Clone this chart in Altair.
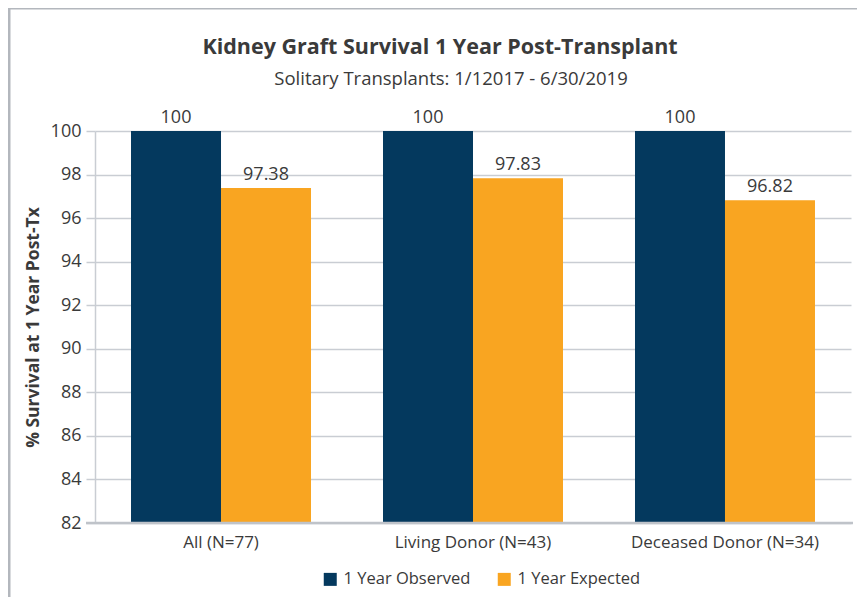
import altair as alt
import pandas as pd

categories = ["All (N=77)", "Living Donor (N=43)", "Deceased Donor (N=34)"]
series_names = ["1 Year Observed", "1 Year Expected"]
observed = [100, 100, 100]
expected = [97.38, 97.83, 96.82]
y_ticks = [82, 84, 86, 88, 90, 92, 94, 96, 98, 100]
title_text = "Kidney Graft Survival 1 Year Post-Transplant"
subtitle_text = "Solitary Transplants: 1/12017 - 6/30/2019"
y_title = "% Survival at 1 Year Post-Tx"

rows = []
for c, o, e in zip(categories, observed, expected):
    rows.append({"cat": c, "series": series_names[0], "value": o, "label": f"{o:g}"})
    rows.append({"cat": c, "series": series_names[1], "value": e, "label": f"{e:.2f}"})
df = pd.DataFrame(rows)

FONT = "Open Sans"
TXT = "#3a3a3a"
GRID = "#c9cdd3"
NAVY = "#04395e"
ORANGE = "#f9a521"

x_enc = alt.X("cat:N", sort=categories, title=None,
              scale=alt.Scale(paddingInner=0.2857, paddingOuter=0.1429),
              axis=alt.Axis(labelAngle=0, ticks=False, domain=False, grid=False,
                            labelFontSize=17, labelColor=TXT, labelFont=FONT,
                            labelPadding=11, labelLimit=400))
xoff = alt.XOffset("series:N", sort=series_names, scale=alt.Scale(paddingInner=0, paddingOuter=0))
y_scale = alt.Scale(domain=[82, 100], zero=False, nice=False)

base = alt.Chart(df)

bars = base.mark_bar().encode(
    x=x_enc,
    xOffset=xoff,
    y=alt.Y("value:Q", scale=y_scale,
            axis=alt.Axis(values=y_ticks, grid=True, gridColor=GRID, gridWidth=1.5,
                          tickColor=GRID, tickSize=9, tickWidth=1.5,
                          domain=True, domainColor=GRID, domainWidth=1.5,
                          labelFontSize=18, labelColor=TXT, labelFont=FONT, labelPadding=5,
                          title=y_title, titleFontSize=17.5, titleFont=FONT, titleFontWeight="bold",
                          titleColor=TXT, titleX=-62, titleY=196, titleAngle=270,
                          titleAlign="center", titleBaseline="middle")),
    y2=alt.datum(82),
    color=alt.Color("series:N", sort=series_names,
                    scale=alt.Scale(domain=series_names, range=[NAVY, ORANGE]),
                    legend=alt.Legend(title=None, orient="none", legendX=227, legendY=440,
                                      direction="horizontal", symbolType="square",
                                      symbolSize=169, symbolStrokeWidth=0, symbolOpacity=1,
                                      labelFontSize=16.5, labelColor=TXT, labelFont=FONT,
                                      labelOffset=5, columnPadding=25, labelLimit=400)),
)

labels = base.mark_text(baseline="alphabetic", dy=-8, fontSize=18, font=FONT, color=TXT).encode(
    x=alt.X("cat:N", sort=categories),
    xOffset=xoff,
    y=alt.Y("value:Q", scale=y_scale),
    text="label:N",
)

baseline_rule = alt.Chart(pd.DataFrame({"v": [82]})).mark_rule(color="#bfc3c9", strokeWidth=2.5).encode(
    y=alt.Y("v:Q", scale=y_scale), x=alt.value(-9), x2=alt.value(758))

title_df = pd.DataFrame({"t": [title_text], "s": [subtitle_text]})
title_mark = alt.Chart(title_df).mark_text(fontSize=21.5, fontWeight="bold", font=FONT, color=TXT,
                                           baseline="middle", align="center").encode(
    text="t:N", x=alt.value(345), y=alt.value(-83))
subtitle_mark = alt.Chart(title_df).mark_text(fontSize=18.5, font=FONT, color=TXT,
                                              baseline="middle", align="center").encode(
    text="s:N", x=alt.value(356), y=alt.value(-52))

frame_top = alt.Chart(title_df).mark_rule(color="#b3b7bd", strokeWidth=3).encode(
    x=alt.value(-87), x2=alt.value(770), y=alt.value(-123))
frame_left = alt.Chart(title_df).mark_rule(color="#b3b7bd", strokeWidth=3).encode(
    x=alt.value(-86), y=alt.value(-124), y2=alt.value(480))

chart = alt.layer(bars, baseline_rule, labels, title_mark, subtitle_mark, frame_top, frame_left).properties(
    width=756, height=392,
    autosize=alt.AutoSizeParams(type="none"),
    padding={"left": 87, "top": 123, "right": 6, "bottom": 74},
    background="white",
).configure_view(stroke=None)

chart.save("out.html", embed_options={"renderer": "svg", "actions": False})
